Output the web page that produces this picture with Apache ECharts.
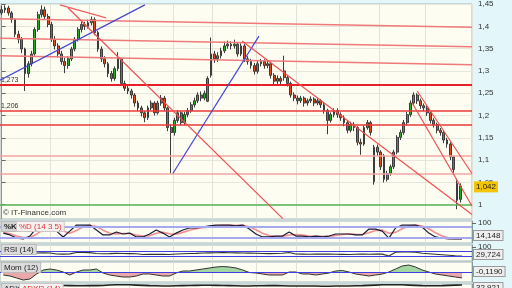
<!DOCTYPE html>
<html><head><meta charset="utf-8">
<script src="https://cdn.jsdelivr.net/npm/echarts@6/dist/echarts.min.js"></script>
<style>html,body{margin:0;padding:0;background:#e3f7fb}#c{width:512px;height:288px}</style>
</head><body><div id="c"></div>
<script>
// ---- price data (daily candles) ----
const openP = [1.430,1.437,1.441,1.430,1.415,1.382,1.371,1.349,1.294,1.316,
1.338,1.393,1.426,1.437,1.422,1.404,1.371,1.356,1.338,1.321,
1.312,1.327,1.349,1.371,1.393,1.404,1.400,1.408,1.415,1.386,
1.349,1.327,1.316,1.294,1.283,1.305,1.327,1.272,1.261,1.255,
1.246,1.228,1.217,1.206,1.195,1.217,1.228,1.206,1.228,1.239,
1.217,1.173,1.162,1.189,1.206,1.184,1.202,1.211,1.224,1.233,
1.246,1.239,1.232,1.290,1.338,1.327,1.334,1.345,1.356,1.360,
1.356,1.360,1.338,1.356,1.327,1.321,1.312,1.299,1.316,1.321,
1.312,1.316,1.290,1.277,1.283,1.300,1.285,1.272,1.246,1.239,
1.233,1.239,1.228,1.233,1.237,1.228,1.233,1.224,1.211,1.189,
1.202,1.211,1.202,1.195,1.184,1.167,1.180,1.173,1.140,1.136,
1.173,1.184,1.052,1.129,1.118,1.110,1.057,1.070,1.085,1.118,
1.151,1.162,1.184,1.202,1.228,1.246,1.233,1.222,1.217,1.206,
1.189,1.180,1.167,1.162,1.145,1.136,1.107,1.048,1.012];
const closeP = [1.437,1.441,1.430,1.415,1.382,1.371,1.349,1.294,1.316,1.338,
1.393,1.426,1.437,1.422,1.404,1.371,1.356,1.338,1.321,1.312,
1.327,1.349,1.371,1.393,1.404,1.400,1.408,1.415,1.386,1.349,
1.327,1.316,1.294,1.283,1.305,1.327,1.272,1.261,1.255,1.246,
1.228,1.217,1.206,1.195,1.217,1.228,1.206,1.228,1.239,1.217,
1.173,1.162,1.189,1.206,1.184,1.202,1.211,1.224,1.233,1.246,
1.239,1.250,1.283,1.338,1.327,1.334,1.345,1.356,1.360,1.356,
1.360,1.338,1.356,1.327,1.321,1.312,1.299,1.316,1.321,1.312,
1.316,1.290,1.277,1.283,1.277,1.285,1.272,1.246,1.239,1.233,
1.239,1.228,1.233,1.237,1.228,1.233,1.224,1.211,1.189,1.202,
1.211,1.202,1.195,1.184,1.167,1.180,1.173,1.140,1.136,1.173,
1.184,1.162,1.129,1.118,1.085,1.057,1.070,1.085,1.118,1.151,
1.162,1.184,1.202,1.228,1.246,1.233,1.222,1.217,1.206,1.189,
1.180,1.167,1.162,1.145,1.136,1.107,1.079,1.010,1.042];
const lowP = [1.425,1.430,1.424,1.408,1.376,1.362,1.340,1.255,1.285,1.310,
1.334,1.388,1.420,1.415,1.398,1.365,1.348,1.330,1.314,1.295,
1.305,1.322,1.344,1.366,1.386,1.392,1.395,1.402,1.380,1.343,
1.320,1.308,1.286,1.276,1.278,1.300,1.266,1.255,1.248,1.238,
1.220,1.210,1.198,1.185,1.190,1.212,1.200,1.202,1.222,1.210,
1.165,1.070,1.155,1.184,1.178,1.179,1.196,1.206,1.218,1.228,
1.232,1.234,1.230,1.285,1.318,1.320,1.328,1.340,1.350,1.348,
1.350,1.332,1.333,1.320,1.314,1.305,1.292,1.294,1.310,1.305,
1.306,1.283,1.270,1.271,1.270,1.278,1.265,1.240,1.232,1.225,
1.228,1.220,1.222,1.228,1.221,1.223,1.217,1.204,1.158,1.184,
1.196,1.195,1.188,1.176,1.160,1.162,1.165,1.133,1.112,1.132,
1.168,1.155,1.045,1.110,1.078,1.050,1.052,1.065,1.080,1.113,
1.145,1.157,1.178,1.197,1.222,1.226,1.215,1.210,1.199,1.182,
1.173,1.160,1.155,1.138,1.128,1.100,1.072,0.990,1.005];
const highP = [1.445,1.447,1.446,1.434,1.418,1.390,1.376,1.352,1.322,1.345,
1.398,1.433,1.447,1.444,1.428,1.410,1.378,1.362,1.345,1.330,
1.333,1.354,1.376,1.398,1.410,1.410,1.415,1.422,1.420,1.390,
1.355,1.333,1.320,1.300,1.310,1.342,1.330,1.278,1.266,1.260,
1.250,1.233,1.222,1.210,1.222,1.234,1.232,1.233,1.246,1.244,
1.220,1.180,1.195,1.212,1.210,1.208,1.217,1.230,1.240,1.252,
1.254,1.256,1.288,1.375,1.345,1.342,1.352,1.366,1.368,1.366,
1.370,1.364,1.362,1.360,1.333,1.327,1.318,1.322,1.327,1.326,
1.322,1.320,1.295,1.290,1.288,1.334,1.290,1.276,1.252,1.245,
1.244,1.243,1.238,1.243,1.241,1.238,1.237,1.228,1.215,1.207,
1.216,1.216,1.207,1.200,1.188,1.186,1.185,1.176,1.148,1.178,
1.190,1.188,1.134,1.135,1.122,1.114,1.076,1.090,1.123,1.156,
1.168,1.190,1.208,1.234,1.252,1.250,1.238,1.227,1.222,1.210,
1.194,1.184,1.172,1.166,1.150,1.140,1.110,1.055,1.048];
const monthStarts = [15,27,39,52,64,77,89,102,114,128];
const priceTicks = [1,1.05,1.1,1.15,1.2,1.25,1.3,1.35,1.4,1.45];

// ---- drawn levels and trend lines (index, price) ----
const flatLevels = [1.273,1.206,1.180,1.112,1.072];
const labelledLevels = [1.273,1.206];
const supportLevel = 1.0;
const slopedLevels = [[1.417,1.398],[1.373,1.354],[1.334,1.314]];
const blueTrend1 = [[-0.5,1.279],[43.1,1.448]];
const blueTrend2 = [[51.5,1.070],[77.4,1.378]];
const redTrendA = [[17.5,1.448],[31.4,1.419]];
const redTrendB = [[20,1.441],[84.6,0.969]];
const redTrendC = [[72.3,1.367],[141.5,0.978]];
const redTrendD = [[125,1.255],[141.5,1.070]];
const redTrendE = [[123.5,1.228],[141.5,0.997]];

// ---- indicators (one value per 2 candles) ----
const kVals = [46,36,19,14,30,74,90,85,57,25,57,90,90,90,63,36,36,52,41,46,
25,25,41,63,46,25,46,63,74,74,79,85,90,90,90,85,90,68,41,25,
25,30,30,52,30,30,25,30,25,30,41,41,41,36,36,68,68,57,19,74,
90,90,90,79,46,25,19,14,14,14.148];
const dVals = [50,42,30,22,22,40,65,82,78,58,45,60,80,88,82,62,45,42,44,44,
36,30,32,45,50,42,40,50,62,70,76,80,85,88,89,88,88,80,64,45,
32,27,28,36,38,36,30,28,28,28,33,38,41,39,38,48,60,62,45,50,
70,85,90,85,70,48,30,20,16,15];
const rsiVals = [46,46,45,44,46,54,55,54,46,45,47,58,58,57,50,48,49,51,50,49,
48,42,43,44,43,42,46,48,50,51,54,55,56,57,56,55,54,53,52,50,
49,50,52,58,46,45,44,45,46,45,44,43,42,44,45,44,46,45,30,60,
62,62,60,52,48,44,40,36,32,29.724];
const momVals = [-0.06,-0.08,-0.12,-0.16,-0.14,-0.04,0.04,0.06,0.04,0,
-0.06,0,0.04,0.04,0.06,-0.02,-0.06,-0.08,-0.10,-0.10,
-0.08,-0.04,-0.04,-0.06,-0.08,-0.08,-0.02,0.02,0.02,0.04,
0.06,0.08,0.10,0.11,0.10,0.08,0.04,-0.01,-0.02,-0.04,
-0.06,-0.06,-0.06,0,0,-0.04,-0.04,-0.06,-0.04,-0.02,
0.02,0.03,0,-0.04,-0.06,-0.08,-0.06,-0.04,0,0.06,
0.12,0.14,0.10,0.04,0,-0.04,-0.06,-0.08,-0.10,-0.119];
const adxVals = [28,27,26,26,27,28,29,30,30,29,28,27,27,28,28,29,33,35,35,34,
32,30,28,27,26,26,27,28,29,30,31,31,30,29,28,27,26,26,27,27,
28,28,27,26,26,25,25,25,24,24,25,26,26,27,28,30,32,34,35,35,
34,32,30,28,27,27,28,30,32,32.921];

const N = 142;
const cats = Array.from({length:N},(_,i)=>String(i));
const indCats = Array.from({length:71},(_,i)=>String(i));
const fmt = v => String(+(+v).toFixed(4)).replace('.', ',');
const fmtN = (v,d) => (+v).toFixed(d).replace('.', ',');
const candles = cats.map((_,i)=> i<closeP.length ? [openP[i],closeP[i],lowP[i],highP[i]] : '-');

const chart = echarts.init(document.getElementById('c'), null, {renderer:'canvas'});
const F = 'Liberation Sans, Arial, sans-serif';
const panelBg = '#fdfdf2';
const gridBase = {left:0, right:40, show:true, backgroundColor:panelBg, borderColor:'#aab8b8', borderWidth:1};
const grids = [
  Object.assign({top:0, height:219}, gridBase),
  Object.assign({top:221, height:22}, gridBase),
  Object.assign({top:245, height:16}, gridBase),
  Object.assign({top:262, height:20}, gridBase),
  Object.assign({top:284, height:22}, gridBase)
];
const splitAxis = g => ({type:'category', gridIndex:g, data:cats, boundaryGap:true,
  axisLine:{show:false}, axisTick:{show:false}, axisLabel:{show:false},
  splitLine:{show:true, interval:(i)=>monthStarts.indexOf(i)>=0, lineStyle:{color:'#e2e2d8', width:1}}});
const dataAxis = g => ({type:'category', gridIndex:g, data:indCats, boundaryGap:true, show:false});
const xAxes = [
  splitAxis(0),
  {type:'value', gridIndex:0, min:-0.5, max:141.5, show:false},
  splitAxis(1), dataAxis(1), splitAxis(2), dataAxis(2), splitAxis(3), dataAxis(3), splitAxis(4), dataAxis(4)
];
const rightAxis = (g, min, max, extra) => Object.assign({type:'value', gridIndex:g, position:'right', min, max,
  axisLine:{show:true, lineStyle:{color:'#7f9a9a'}},
  axisTick:{show:false}, axisLabel:{show:false}, splitLine:{show:false}}, extra||{});
const yAxes = [
  rightAxis(0, 0.968, 1.45, {
    axisTick:{show:true, length:4, lineStyle:{color:'#666'}, customValues:priceTicks},
    axisLabel:{show:true, customValues:priceTicks, formatter:fmt, color:'#333', fontFamily:F, fontSize:8, margin:6},
    splitLine:{show:true, lineStyle:{color:'#e6e6dc'}}
  }),
  rightAxis(1, -8, 112, {axisTick:{show:true, length:4, customValues:[100], lineStyle:{color:'#666'}},
    axisLabel:{show:true, customValues:[100], color:'#333', fontFamily:F, fontSize:8, margin:6}}),
  rightAxis(2, -10, 118, {axisTick:{show:true, length:4, customValues:[100], lineStyle:{color:'#666'}},
    axisLabel:{show:true, customValues:[100], color:'#333', fontFamily:F, fontSize:8, margin:6}}),
  rightAxis(3, -0.2, 0.2),
  rightAxis(4, 0, 40)
];
const trend = (d, color, w) => ({type:'line', xAxisIndex:1, yAxisIndex:0, data:d, symbol:'none', silent:true,
  lineStyle:{color, width:w||1.2}, z:4, animation:false});
const levelColors = ['#e8202a','#ea3a3a','#ea3a3a','#f3a3a3','#f3a3a3'];
const levelWidths = [2,1.5,1.5,1.5,1.5];
const lastClose = closeP[closeP.length-1];
const series = [
  {type:'candlestick', xAxisIndex:0, yAxisIndex:0, data:candles, barWidth:'70%',
   itemStyle:{color:'#22ad22', color0:'#e24a1c', borderColor:'#3c3c3c', borderColor0:'#3c3c3c', borderWidth:1},
   markLine:{symbol:'none', silent:true, animation:false, z:3,
     data: flatLevels.map((v,i)=>({yAxis:v, lineStyle:{color:levelColors[i], width:levelWidths[i], type:'solid'},
        label:{show: labelledLevels.indexOf(v)>=0, position:'insideStartTop', formatter:fmt(v), color:'#333', fontFamily:F, fontSize:7, distance:1}}))
       .concat([{yAxis:supportLevel, lineStyle:{color:'#55b455', width:1.5, type:'solid'}, label:{show:false}}])
   }},
  // invisible carrier for the last-price badge
  {type:'line', xAxisIndex:1, yAxisIndex:0, data:[[141.5,lastClose]], symbol:'none', silent:true, animation:false, z:20,
   markLine:{symbol:'none', silent:true, animation:false, z:20,
     data:[{yAxis:lastClose, lineStyle:{color:'rgba(0,0,0,0)', width:0},
       label:{show:true, position:'end', distance:2, formatter:fmt(lastClose), backgroundColor:'#f5c400',
         color:'#222', padding:[2,2,1,2], fontFamily:F, fontSize:8}}]}},
  ...slopedLevels.map(p=>trend([[-0.5,p[0]],[141.5,p[1]]], '#f07a7a', 1.5)),
  trend(blueTrend1,'#4646d2',1.2), trend(blueTrend2,'#4646d2',1.2),
  trend(redTrendA,'#f06060',1.2), trend(redTrendB,'#f05050',1.2), trend(redTrendC,'#f05050',1.2),
  trend(redTrendD,'#f05050',1.2), trend(redTrendE,'#f05050',1.2),
  // %K / %D
  {type:'line', xAxisIndex:3, yAxisIndex:1, data:dVals, symbol:'none', lineStyle:{color:'#f29090', width:1.6}, silent:true, animation:false,
   markLine:{symbol:'none', silent:true, animation:false, label:{show:false}, lineStyle:{color:'#a6a8f0', width:2, type:'solid'}, data:[{yAxis:80},{yAxis:20}]}},
  {type:'line', xAxisIndex:3, yAxisIndex:1, data:kVals, symbol:'none', lineStyle:{color:'#1a1a3a', width:1.2}, silent:true, animation:false},
  // RSI
  {type:'line', xAxisIndex:5, yAxisIndex:2, data:rsiVals, symbol:'none', lineStyle:{color:'#333', width:1.2}, silent:true, animation:false,
   markLine:{symbol:'none', silent:true, animation:false, label:{show:false}, lineStyle:{color:'#4040e0', width:1, type:'solid'}, data:[{yAxis:70},{yAxis:30}]}},
  // Momentum
  {type:'line', xAxisIndex:7, yAxisIndex:3, data:momVals.map(v=>Math.max(v,0)), symbol:'none', lineStyle:{width:0}, areaStyle:{color:'#a3d6a3', opacity:1}, silent:true, animation:false},
  {type:'line', xAxisIndex:7, yAxisIndex:3, data:momVals.map(v=>Math.min(v,0)), symbol:'none', lineStyle:{width:0}, areaStyle:{color:'#eba8a8', opacity:1}, silent:true, animation:false},
  {type:'line', xAxisIndex:7, yAxisIndex:3, data:momVals, symbol:'none', lineStyle:{color:'#333', width:1}, silent:true, animation:false,
   markLine:{symbol:'none', silent:true, animation:false, label:{show:false}, lineStyle:{color:'#4040e0', width:1, type:'solid'}, data:[{yAxis:0}]}},
  // ADX
  {type:'line', xAxisIndex:9, yAxisIndex:4, data:adxVals, symbol:'none', lineStyle:{color:'#222', width:1.6}, silent:true, animation:false}
];
const box = (txt, x, y, opts) => ({type:'text', x, y, z:100, style:Object.assign({text:txt, font:'8px '+F, fill:'#222',
  backgroundColor:'#efefef', borderColor:'#9a9a9a', borderWidth:1, padding:[1,2,0,2]}, opts||{})});
const graphic = [
  {type:'text', x:3, y:209, z:100, style:{text:'© IT-Finance.com', font:'8px '+F, fill:'#333'}},
  box('%K', 2, 222, {backgroundColor:'#d4d4d4', borderColor:'#bbb', font:'bold 8px '+F}),
  box('%D (14 3 5)', 17, 222, {backgroundColor:'#f6f2f2', borderColor:'#d0c4c4', fill:'#e03232'}),
  box('RSI (14)', 2, 245, {backgroundColor:'#dcdcdc', borderColor:'#bbb'}),
  box('Mom (12)', 2, 263, {backgroundColor:'#dcdcdc', borderColor:'#bbb'}),
  box('ADX', 2, 284, {backgroundColor:'#dcdcdc', borderColor:'#bbb'}),
  box('ADXR (14)', 20, 284, {backgroundColor:'#f6f2f2', borderColor:'#d0c4c4', fill:'#e03232'}),
  box(fmtN(kVals[kVals.length-1],3), 474, 231),
  box(fmtN(rsiVals[rsiVals.length-1],3), 474, 250),
  box(fmtN(momVals[momVals.length-1],4), 474, 267),
  box(fmtN(adxVals[adxVals.length-1],3), 474, 283)
];
chart.setOption({animation:false, backgroundColor:'#e3f7fb', grid:grids, xAxis:xAxes, yAxis:yAxes, series, graphic});
</script></body></html>
